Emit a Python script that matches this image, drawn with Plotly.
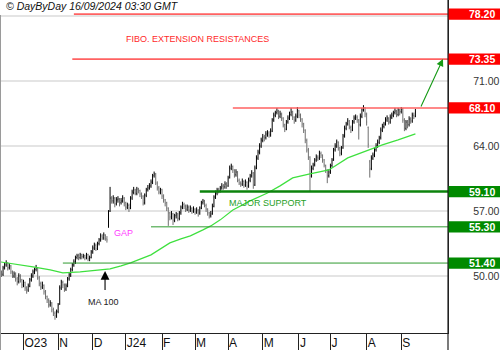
import plotly.graph_objects as go
import pandas as pd

# ---------------- data ----------------
DATES = pd.bdate_range("2023-09-11", "2024-09-13")
MONTH_LABELS = ["O23", "N", "D", "J24", "F", "M", "A", "M", "J", "J", "A", "S"]

OPEN = [50.3, 50.4, 50.2, 50.9, 51.2, 51.4, 50.9, 51.1, 50.4, 50.0,
        50.2, 49.7, 49.4, 50.0, 49.6, 49.0, 49.3, 48.7, 48.5, 48.9,
        49.6, 50.0, 50.4, 50.7, 50.8, 49.8, 49.2, 48.8, 49.0, 48.3,
        47.8, 47.4, 46.9, 47.1, 46.4, 46.0, 45.7, 46.2, 47.0, 48.7,
        49.3, 49.0, 48.6, 48.9, 49.7, 50.1, 50.7, 51.2, 51.5, 52.0,
        52.2, 52.0, 52.3, 52.1, 52.2, 52.0, 52.3, 51.9, 52.0, 52.6,
        53.0, 53.3, 52.9, 53.5, 53.9, 54.3, 54.1, 54.4, 54.0, 55.3,
        57.0, 58.4, 58.1, 58.4, 57.8, 58.2, 58.3, 57.9, 58.1, 58.4,
        57.9, 57.4, 57.6, 57.3, 58.4, 59.0, 59.3, 58.9, 59.4, 59.2,
        58.8, 58.6, 57.9, 58.7, 59.3, 59.5, 59.7, 60.1, 60.8, 61.0,
        60.0, 59.5, 59.0, 59.3, 58.6, 58.2, 57.9, 57.3, 56.8, 56.4,
        56.7, 56.0, 56.5, 56.7, 56.2, 56.8, 57.4, 57.7, 57.5, 57.2,
        57.4, 57.1, 57.3, 57.0, 57.2, 56.9, 57.1, 56.8, 57.3, 57.9,
        58.1, 57.6, 57.2, 56.8, 56.5, 56.7, 57.5, 58.5, 58.9, 59.3,
        59.2, 59.5, 59.7, 59.6, 59.9, 59.7, 60.6, 61.6, 61.8, 61.4,
        60.9, 61.2, 60.3, 60.0, 59.9, 60.2, 59.8, 60.1, 59.7, 60.3,
        60.8, 61.1, 59.8, 61.6, 62.7, 63.3, 64.0, 64.6, 65.0, 64.9,
        65.3, 65.4, 65.2, 65.6, 66.8, 67.3, 67.6, 67.8, 67.2, 67.4,
        67.0, 66.3, 65.8, 66.6, 67.0, 67.4, 67.7, 67.1, 66.8, 67.2,
        67.8, 67.3, 66.9, 66.4, 65.7, 64.6, 63.6, 62.8, 60.8, 61.6,
        62.0, 62.5, 62.8, 62.7, 63.2, 63.0, 62.5, 61.9, 61.4, 60.8,
        61.2, 61.9, 62.5, 63.6, 64.0, 64.4, 63.8, 63.2, 63.8, 65.1,
        65.9, 66.4, 66.7, 66.0, 65.7, 66.6, 67.0, 67.1, 66.8, 66.3,
        67.2, 67.9, 68.1, 67.4, 66.0, 62.3, 61.6, 62.7, 63.0, 63.6,
        64.0, 64.4, 64.9, 65.7, 66.1, 66.4, 66.8, 67.0, 66.6, 67.1,
        67.3, 67.6, 67.8, 67.4, 67.9, 67.7, 68.0, 66.8, 65.9, 66.6,
        66.3, 66.9, 66.7, 67.3, 67.2]

HIGH = [50.8, 50.6, 51.1, 51.5, 51.7, 51.5, 51.4, 51.2, 50.6, 50.5,
        50.4, 49.9, 50.3, 50.2, 49.7, 49.6, 49.4, 48.9, 49.2, 49.8,
        50.3, 50.7, 50.9, 51.2, 50.9, 50.0, 49.4, 49.4, 49.1, 48.5,
        47.9, 47.6, 47.4, 47.2, 46.6, 46.2, 46.4, 47.1, 49.0, 49.6,
        49.5, 49.2, 49.2, 49.9, 50.4, 50.9, 51.4, 51.8, 52.2, 52.4,
        52.4, 52.5, 52.4, 52.4, 52.3, 52.5, 52.4, 52.2, 52.8, 53.3,
        53.6, 53.5, 53.7, 54.1, 54.6, 54.5, 54.7, 54.5, 54.3, 57.1,
        59.6, 58.6, 58.7, 58.5, 58.5, 58.6, 58.4, 58.4, 58.7, 58.5,
        58.0, 57.9, 57.8, 58.6, 59.3, 59.6, 59.4, 59.6, 59.5, 59.3,
        59.0, 58.7, 58.9, 59.5, 59.8, 60.0, 60.4, 61.0, 61.25, 61.1,
        60.2, 59.7, 59.5, 59.4, 58.8, 58.3, 58.0, 57.4, 56.9, 57.0,
        56.8, 56.7, 56.9, 56.8, 57.0, 57.6, 58.0, 57.9, 57.7, 57.7,
        57.6, 57.6, 57.4, 57.5, 57.3, 57.4, 57.2, 57.5, 58.1, 58.3,
        58.2, 57.8, 57.3, 56.9, 57.0, 57.8, 58.7, 59.2, 59.5, 59.5,
        59.7, 60.0, 59.9, 60.2, 60.1, 60.8, 61.9, 62.1, 61.9, 61.5,
        61.5, 61.3, 60.5, 60.2, 60.5, 60.3, 60.4, 60.2, 60.6, 61.0,
        61.4, 61.2, 61.9, 63.0, 63.6, 64.3, 64.9, 65.3, 65.2, 65.6,
        65.7, 65.6, 65.9, 67.0, 67.6, 67.8, 68.1, 67.9, 67.8, 67.6,
        67.1, 66.4, 66.8, 67.3, 67.7, 68.1, 67.8, 67.2, 67.5, 68.2,
        67.9, 67.5, 67.0, 66.5, 65.8, 64.8, 63.8, 62.9, 61.9, 62.2,
        62.7, 63.1, 63.0, 63.5, 63.4, 63.1, 62.6, 62.0, 61.5, 61.5,
        62.1, 62.7, 63.8, 64.3, 64.7, 64.5, 63.9, 64.0, 65.3, 66.2,
        66.6, 67.0, 66.8, 66.2, 66.8, 67.3, 67.4, 67.3, 66.9, 67.5,
        68.1, 68.4, 68.2, 67.6, 66.1, 62.5, 63.0, 63.3, 63.8, 64.3,
        64.7, 65.1, 66.0, 66.4, 66.6, 67.1, 67.3, 67.1, 67.4, 67.6,
        67.8, 68.1, 67.9, 68.1, 68.0, 68.2, 68.1, 67.0, 66.8, 66.8,
        67.2, 67.1, 67.6, 67.6, 68.0]

LOW = [50.1, 49.9, 50.0, 50.7, 51.0, 50.6, 50.7, 50.2, 49.8, 49.8,
       49.4, 49.0, 49.2, 49.3, 48.7, 48.8, 48.4, 48.1, 48.3, 48.8,
       49.4, 49.8, 50.2, 50.5, 49.6, 48.9, 48.5, 48.6, 48.0, 47.5,
       47.1, 46.6, 46.7, 46.1, 45.7, 45.3, 45.5, 46.0, 46.9, 48.5,
       48.7, 48.3, 48.4, 48.8, 49.5, 49.9, 50.5, 51.0, 51.3, 51.8,
       51.7, 51.8, 51.8, 51.9, 51.7, 51.8, 51.6, 51.6, 51.9, 52.4,
       52.8, 52.7, 52.8, 53.3, 53.7, 53.9, 53.9, 53.8, 53.6, 55.2,
       56.9, 57.8, 57.8, 57.4, 57.6, 57.9, 57.5, 57.7, 57.9, 57.5,
       57.1, 57.2, 56.9, 57.2, 58.2, 58.8, 58.7, 58.7, 58.9, 58.5,
       58.3, 57.6, 57.7, 58.5, 59.1, 59.3, 59.5, 59.9, 60.6, 59.8,
       59.2, 58.8, 58.8, 58.3, 57.9, 57.5, 57.0, 55.4, 56.0, 56.1,
       55.5, 55.8, 56.2, 55.9, 56.0, 56.6, 57.2, 57.2, 56.9, 57.0,
       56.8, 56.9, 56.7, 56.8, 56.6, 56.7, 56.4, 56.6, 57.2, 57.7,
       57.4, 56.9, 56.5, 56.2, 56.3, 56.6, 57.4, 58.3, 58.7, 58.9,
       59.0, 59.3, 59.3, 59.4, 59.4, 59.6, 60.5, 61.4, 61.1, 60.6,
       60.7, 60.1, 59.8, 59.6, 59.7, 59.5, 59.6, 59.3, 59.5, 60.1,
       60.6, 59.4, 59.7, 61.5, 62.5, 63.1, 63.8, 64.4, 64.5, 64.7,
       65.0, 64.9, 65.0, 65.5, 66.6, 67.1, 67.4, 66.9, 67.0, 66.7,
       66.0, 65.5, 65.7, 66.4, 66.8, 67.2, 66.8, 66.4, 66.6, 67.0,
       67.0, 66.6, 66.0, 65.4, 64.3, 63.3, 62.5, 59.1, 60.6, 61.4,
       61.8, 62.3, 62.4, 62.5, 62.7, 62.2, 61.7, 61.1, 60.0, 60.6,
       61.0, 61.7, 62.4, 63.4, 63.8, 63.5, 62.9, 63.0, 63.7, 64.9,
       65.7, 66.2, 65.8, 65.4, 65.6, 66.4, 66.8, 66.5, 64.7, 66.1,
       67.0, 67.7, 67.1, 66.2, 63.8, 60.6, 61.4, 62.5, 62.8, 63.4,
       63.8, 64.2, 64.7, 65.5, 65.9, 66.2, 66.6, 66.3, 66.4, 66.9,
       67.1, 67.4, 67.1, 67.2, 67.3, 67.5, 66.5, 65.6, 65.7, 65.9,
       66.1, 66.4, 66.5, 66.9, 67.1]

CLOSE = [50.45, 50.13, 50.88, 51.20, 51.41, 50.88, 51.09, 50.45, 50.02, 50.23,
         49.69, 49.37, 50.02, 49.59, 49.05, 49.27, 48.73, 48.51, 48.94, 49.59,
         50.02, 50.45, 50.67, 50.88, 49.80, 49.16, 48.84, 49.05, 48.30, 47.76,
         47.44, 46.90, 47.12, 46.36, 46.04, 45.72, 46.15, 46.90, 48.73, 49.37,
         49.05, 48.62, 48.94, 49.69, 50.13, 50.67, 51.20, 51.52, 51.96, 52.17,
         51.96, 52.28, 52.07, 52.17, 51.96, 52.28, 51.85, 51.96, 52.60, 53.03,
         53.36, 52.93, 53.47, 53.90, 54.33, 54.11, 54.43, 54.00, 53.90, 56.89,
         58.40, 58.08, 58.40, 57.76, 58.19, 58.30, 57.86, 58.08, 58.40, 57.86,
         57.43, 57.65, 57.33, 58.40, 59.05, 59.26, 58.94, 59.37, 59.16, 58.83,
         58.62, 57.86, 58.73, 59.26, 59.48, 59.69, 60.12, 60.77, 60.99, 60.02,
         59.48, 59.05, 59.26, 58.62, 58.19, 57.86, 57.33, 56.79, 56.36, 56.68,
         56.03, 56.46, 56.68, 56.25, 56.79, 57.43, 57.65, 57.54, 57.22, 57.43,
         57.11, 57.33, 57.00, 57.22, 56.89, 57.11, 56.79, 57.33, 57.86, 58.08,
         57.65, 57.22, 56.79, 56.46, 56.68, 57.54, 58.51, 58.94, 59.26, 59.16,
         59.48, 59.69, 59.59, 59.91, 59.69, 60.56, 61.63, 61.85, 61.42, 60.88,
         61.20, 60.34, 60.02, 59.91, 60.23, 59.80, 60.12, 59.69, 60.34, 60.77,
         61.09, 59.80, 61.63, 62.71, 63.35, 64.00, 64.65, 64.97, 64.86, 65.29,
         65.40, 65.18, 65.61, 66.80, 67.34, 67.56, 67.77, 67.23, 67.45, 67.01,
         66.26, 65.83, 66.58, 67.01, 67.45, 67.66, 67.12, 66.80, 67.23, 67.77,
         67.34, 66.91, 66.37, 65.72, 64.65, 63.57, 62.82, 60.77, 61.63, 61.95,
         62.49, 62.82, 62.71, 63.25, 63.03, 62.49, 61.95, 61.42, 60.77, 61.20,
         61.85, 62.49, 63.57, 64.00, 64.43, 63.78, 63.25, 63.78, 65.08, 65.94,
         66.37, 66.69, 66.05, 65.72, 66.58, 67.01, 67.12, 66.80, 66.26, 67.23,
         67.88, 68.09, 67.45, 66.58, 64.20, 61.50, 62.71, 63.03, 63.57, 64.00,
         64.43, 64.86, 65.72, 66.15, 66.37, 66.80, 67.01, 66.58, 67.12, 67.34,
         67.56, 67.77, 67.45, 67.88, 67.66, 67.99, 66.80, 65.94, 66.58, 66.26,
         66.91, 66.69, 67.34, 67.23, 67.66]

# 100-day moving average at these bar positions
MA_IDX = [0, 10, 21, 32, 40, 51, 64, 70, 77, 83, 96, 108, 115, 121, 129, 134,
          140, 148, 159, 170, 178, 186, 197, 209, 221, 234, 243, 253, 264]
MA_VAL = [51.53, 51.31, 50.99, 50.67, 50.35, 50.45, 50.67, 50.78, 51.10, 51.42,
          52.28, 53.57, 54.00, 54.33, 54.97, 55.40, 56.05, 57.12, 58.09, 58.95,
          59.71, 60.57, 61.00, 61.43, 62.72, 63.58, 64.12, 64.66, 65.30]

RES_LEVELS = [78.20, 73.35, 68.10]
RES_START = [47, 46, 148]
SUP_LEVELS = [59.10, 55.30, 51.40]
SUP_START = [127, 96, 40]
SUP_WIDTH = [2.6, 1, 1]

Y_TICKS = [50, 57, 64, 71, 78]
Y_RANGE = [43.87, 79.72]
X_RANGE = [0.7, 284.7]

# ---------------- figure ----------------
FONT = "Liberation Sans, Arial, sans-serif"
PLOT_W = 447.0
PLOT_H = 333.0
X = list(range(len(CLOSE)))
month_start = [i for i in range(1, len(DATES)) if DATES[i].month != DATES[i - 1].month]

fig = go.Figure()
fig.add_trace(go.Ohlc(
    x=X, open=OPEN, high=HIGH, low=LOW, close=CLOSE,
    increasing=dict(line=dict(color="#000000", width=1)),
    decreasing=dict(line=dict(color="#6e6e6e", width=1)),
    tickwidth=0.3, hoverinfo="skip", showlegend=False))
fig.add_trace(go.Scatter(
    x=MA_IDX, y=MA_VAL, mode="lines",
    line=dict(color="#3ee03e", width=1.2),
    hoverinfo="skip", showlegend=False))

shapes = []
annotations = []
box_w = 52.0 / PLOT_W
half_h = 5.6 / (PLOT_H / (Y_RANGE[1] - Y_RANGE[0]))

for lvl, st in zip(RES_LEVELS, RES_START):
    shapes.append(dict(type="line", xref="x", yref="y", x0=st, x1=X_RANGE[1],
                       y0=lvl, y1=lvl, line=dict(color="#ff6262", width=1.6)))
    shapes.append(dict(type="rect", xref="paper", yref="y", x0=1, x1=1 + box_w,
                       y0=lvl - half_h, y1=lvl + half_h, fillcolor="#ff0000",
                       line=dict(width=0), layer="above"))
    annotations.append(dict(xref="paper", yref="y", x=1 + 49.5 / PLOT_W, y=lvl,
                            xanchor="right", yanchor="middle", showarrow=False,
                            text="<b>%.2f</b>" % lvl,
                            font=dict(family=FONT, size=10.5, color="white")))

for lvl, st, w in zip(SUP_LEVELS, SUP_START, SUP_WIDTH):
    shapes.append(dict(type="line", xref="x", yref="y", x0=st, x1=X_RANGE[1],
                       y0=lvl, y1=lvl,
                       line=dict(color="#0c830c" if w > 2 else "#2f9a2f", width=w)))
    shapes.append(dict(type="rect", xref="paper", yref="y", x0=1, x1=1 + box_w,
                       y0=lvl - half_h, y1=lvl + half_h, fillcolor="#008a00",
                       line=dict(width=0), layer="above"))
    annotations.append(dict(xref="paper", yref="y", x=1 + 49.5 / PLOT_W, y=lvl,
                            xanchor="right", yanchor="middle", showarrow=False,
                            text="<b>%.2f</b>" % lvl,
                            font=dict(family=FONT, size=10.5, color="white")))

# frame pieces: left grey border, right axis through the date strip
shapes.append(dict(type="line", xref="paper", yref="paper", x0=-0.6 / PLOT_W, x1=-0.6 / PLOT_W,
                   y0=-17 / PLOT_H, y1=1 - 15 / PLOT_H, line=dict(color="#9a9a9a", width=1.2)))
shapes.append(dict(type="line", xref="paper", yref="paper", x0=1, x1=1,
                   y0=-17 / PLOT_H, y1=1, line=dict(color="#222222", width=1.2)))

# text annotations
annotations += [
    dict(xref="paper", yref="paper", x=3 / PLOT_W, y=1 - 6.5 / PLOT_H,
         xanchor="left", yanchor="middle", showarrow=False,
         text="<i>© DayByDay 16/09/2024 03:30 GMT</i>",
         font=dict(family=FONT, size=10.5, color="#111111")),
    dict(xref="x", yref="y", x=125.8, y=75.52, showarrow=False,
         text="FIBO. EXTENSION RESISTANCES",
         font=dict(family=FONT, size=9, color="#ff2a2a")),
    dict(xref="x", yref="y", x=170.3, y=57.87, showarrow=False,
         text="MAJOR SUPPORT",
         font=dict(family=FONT, size=9, color="#25a025")),
    dict(xref="x", yref="y", x=71.2, y=54.64, xanchor="left", showarrow=False,
         text="GAP",
         font=dict(family=FONT, size=9, color="#ff3cff")),
    dict(xref="x", yref="y", x=65.8, y=47.21, showarrow=False,
         text="MA 100",
         font=dict(family=FONT, size=9, color="#222222")),
    dict(xref="x", yref="y", x=66.8, y=50.55, axref="x", ayref="y",
         ax=66.8, ay=48.35, text="", showarrow=True, arrowhead=2,
         arrowsize=1.6, arrowwidth=1.1, arrowcolor="#000000"),
    dict(xref="x", yref="y", x=281.5, y=73.37, axref="x", ayref="y",
         ax=267.1, ay=68.09, text="", showarrow=True, arrowhead=2,
         arrowsize=1.3, arrowwidth=1.1, arrowcolor="#159a15"),
]

fig.update_layout(
    width=500, height=350,
    margin=dict(l=1, r=52, t=0, b=17, pad=0),
    paper_bgcolor="white", plot_bgcolor="white",
    font=dict(family=FONT, color="#222222"),
    showlegend=False,
    shapes=shapes, annotations=annotations,
    xaxis=dict(range=X_RANGE, tickmode="array", tickvals=month_start,
               ticktext=MONTH_LABELS, ticks="outside", ticklen=17,
               tickcolor="#222222", tickwidth=1,
               ticklabelposition="outside right", ticklabelstandoff=-1,
               tickfont=dict(family=FONT, size=12, color="#111111"),
               showgrid=False, zeroline=False, showline=True,
               linecolor="#222222", linewidth=1,
               rangeslider=dict(visible=False), fixedrange=True),
    yaxis=dict(range=Y_RANGE, side="right", tickmode="array", tickvals=Y_TICKS,
               ticktext=["%.2f" % v if v != 78 else "" for v in Y_TICKS],
               ticks="outside", ticklen=22, tickcolor="rgba(0,0,0,0)",
               tickfont=dict(family=FONT, size=10.5, color="#333333"),
               showgrid=True, gridcolor="#e4e4e4", gridwidth=1.5,
               zeroline=False, showline=True, linecolor="#222222", linewidth=1.2,
               fixedrange=True),
)

fig.write_html("out.html")
